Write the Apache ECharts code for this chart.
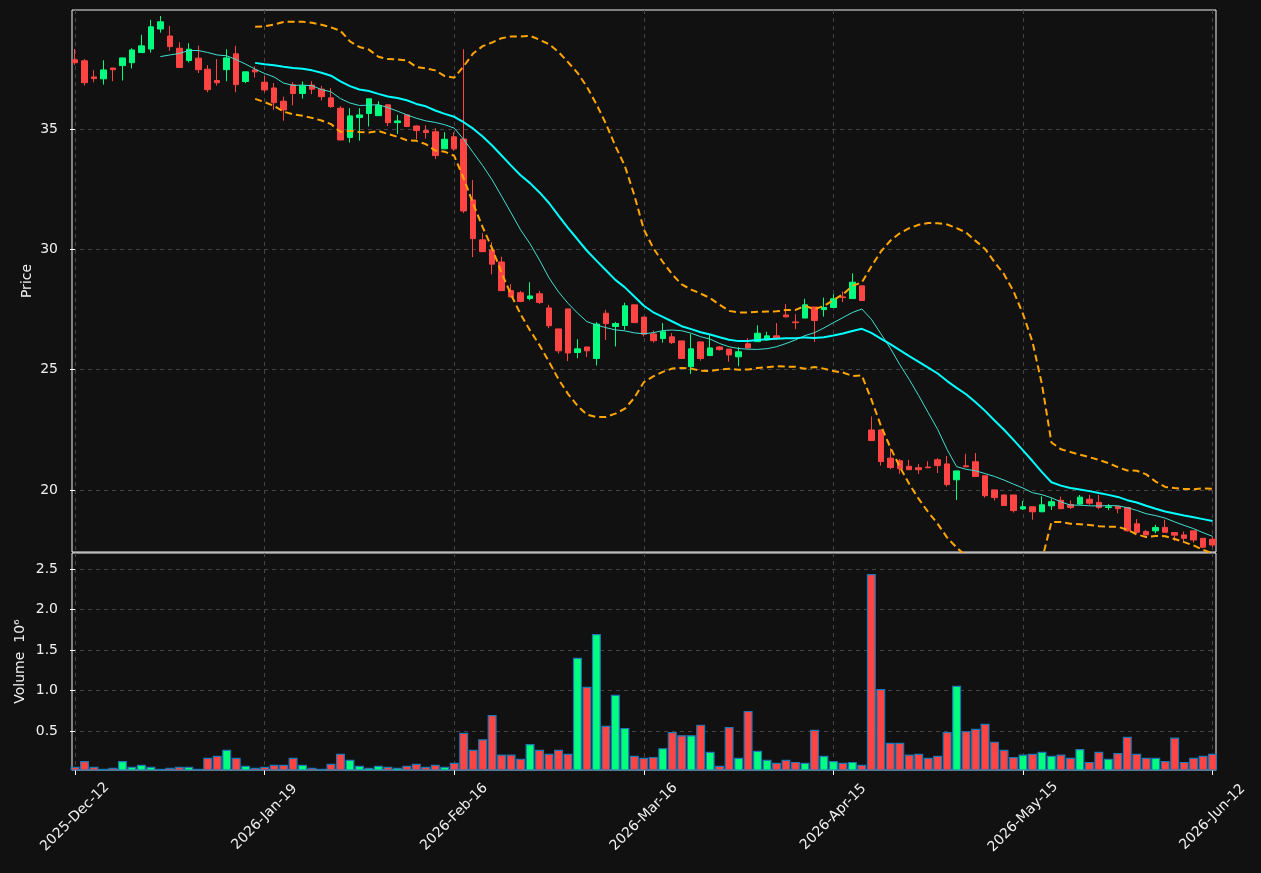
<!DOCTYPE html>
<html>
<head>
<meta charset="utf-8">
<title>Price / Volume</title>
<script src="https://cdn.jsdelivr.net/npm/echarts@6/dist/echarts.min.js"></script>
<style>
  html, body { margin: 0; background: #111111; }
  #main { width: 1261px; height: 873px; }
</style>
</head>
<body>
<div id="main"></div>
<script>
// tick labels every 20 trading days (index 0, 20, ... 120)
var tickLabels = ['2025-Dec-12', '2026-Jan-19', '2026-Feb-16', '2026-Mar-16', '2026-Apr-15', '2026-May-15', '2026-Jun-12'];
var tickIdx = [0, 20, 40, 60, 80, 100, 120];

var opens = [
  37.87, 37.83, 37.16, 37.08, 37.53, 37.63, 37.75, 38.17, 38.32, 39.15,
  38.86, 38.35, 37.84, 37.94, 37.48, 37.01, 37.46, 38.12, 36.97, 37.45,
  36.94, 36.70, 36.15, 36.83, 36.47, 36.82, 36.65, 36.29, 35.86, 34.64,
  35.47, 35.64, 35.55, 36.00, 35.26, 35.58, 35.12, 34.93, 34.88, 34.17,
  34.67, 34.58, 32.05, 30.39, 29.97, 29.47, 28.28, 28.19, 27.95, 28.15,
  27.56, 26.69, 27.52, 25.71, 25.94, 25.46, 27.34, 26.79, 26.83, 27.69,
  27.18, 26.48, 26.29, 26.36, 26.19, 25.12, 26.15, 25.58, 25.94, 25.85,
  25.53, 26.07, 26.16, 26.23, 26.40, 27.27, 26.98, 27.14, 27.60, 27.49,
  27.58, 28.02, 27.95, 28.48, 22.49, 22.49, 21.32, 21.21, 20.98, 20.92,
  20.95, 21.25, 21.08, 20.42, 21.00, 21.17, 20.59, 20.00, 19.79, 19.79,
  19.21, 19.30, 19.09, 19.34, 19.57, 19.39, 19.41, 19.61, 19.48, 19.27,
  19.31, 19.27, 18.59, 18.27, 18.30, 18.44, 18.23, 18.13, 18.30, 17.99,
  17.95
];
var closes = [
  37.75, 36.92, 37.09, 37.45, 37.46, 37.95, 38.28, 38.45, 39.24, 39.45,
  38.42, 37.55, 38.31, 37.46, 36.63, 36.92, 37.95, 36.84, 37.37, 37.37,
  36.62, 36.09, 35.79, 36.47, 36.79, 36.65, 36.34, 35.93, 34.54, 35.54,
  35.58, 36.25, 35.97, 35.26, 35.33, 35.10, 34.93, 34.85, 33.89, 34.57,
  34.17, 31.59, 30.44, 29.90, 29.38, 28.28, 28.02, 27.83, 28.06, 27.79,
  26.82, 25.78, 25.69, 25.86, 25.78, 26.89, 26.91, 26.91, 27.65, 26.95,
  26.47, 26.20, 26.57, 26.12, 25.46, 25.86, 25.46, 25.90, 25.83, 25.61,
  25.74, 25.90, 26.51, 26.40, 26.29, 27.19, 26.95, 27.69, 27.04, 27.58,
  27.94, 27.99, 28.63, 27.87, 22.05, 21.18, 20.93, 20.88, 20.84, 20.84,
  20.92, 21.01, 20.22, 20.79, 20.96, 20.56, 19.76, 19.68, 19.35, 19.14,
  19.30, 19.09, 19.38, 19.51, 19.22, 19.27, 19.70, 19.45, 19.27, 19.30,
  19.22, 18.30, 18.24, 18.13, 18.44, 18.24, 18.12, 17.99, 17.92, 17.62,
  17.71
];
var lows = [
  37.66, 36.80, 36.94, 36.84, 36.98, 37.01, 37.51, 38.17, 38.17, 39.00,
  38.25, 37.55, 37.76, 37.32, 36.52, 36.80, 36.98, 36.52, 36.90, 37.13,
  36.52, 35.79, 35.34, 35.98, 36.26, 36.44, 36.18, 35.87, 34.54, 34.43,
  34.51, 35.10, 35.55, 35.12, 34.79, 35.10, 34.57, 34.60, 33.75, 34.17,
  34.09, 31.50, 29.67, 29.88, 28.96, 28.28, 27.99, 27.80, 27.88, 27.72,
  26.72, 25.66, 25.35, 25.47, 25.52, 25.17, 26.23, 25.96, 26.65, 26.95,
  26.37, 26.12, 26.12, 26.06, 25.46, 24.82, 25.37, 25.58, 25.79, 25.33,
  25.14, 25.88, 26.16, 26.20, 26.23, 27.16, 26.68, 27.14, 26.14, 27.20,
  27.58, 27.80, 27.95, 27.87, 22.05, 21.01, 20.86, 20.67, 20.84, 20.66,
  20.92, 20.70, 20.14, 19.58, 20.96, 20.56, 19.68, 19.56, 19.35, 19.06,
  19.17, 18.76, 19.09, 19.17, 19.20, 19.20, 19.38, 19.38, 19.20, 19.17,
  19.03, 18.27, 18.20, 18.11, 18.20, 18.24, 17.88, 17.85, 17.81, 17.58,
  17.62
];
var highs = [
  38.32, 37.90, 37.44, 37.85, 37.53, 37.95, 38.35, 38.91, 39.53, 39.69,
  39.28, 38.60, 38.56, 38.46, 37.65, 37.90, 38.31, 38.45, 37.37, 37.59,
  37.20, 36.90, 36.34, 36.94, 36.97, 36.98, 36.79, 36.69, 35.94, 35.86,
  35.86, 36.25, 36.15, 36.00, 35.58, 35.58, 35.15, 35.15, 35.03, 34.86,
  34.86, 38.31, 32.88, 30.67, 30.29, 29.69, 28.55, 28.27, 28.63, 28.27,
  27.69, 26.69, 27.52, 26.26, 25.94, 26.97, 27.48, 26.98, 27.78, 27.69,
  27.18, 26.62, 26.93, 26.51, 26.19, 26.48, 26.15, 26.48, 25.98, 25.85,
  25.93, 26.30, 26.84, 26.57, 26.93, 27.72, 27.30, 27.94, 27.60, 27.99,
  28.13, 28.24, 29.00, 28.48, 23.05, 22.49, 21.73, 21.28, 21.25, 21.08,
  21.19, 21.32, 21.41, 20.79, 21.50, 21.53, 20.59, 20.00, 19.79, 19.79,
  19.54, 19.30, 19.73, 19.65, 19.72, 19.56, 19.79, 19.79, 19.79, 19.41,
  19.31, 19.27, 18.79, 18.34, 18.55, 18.76, 18.23, 18.27, 18.30, 17.99,
  18.06
];
// volume in millions
var volumes = [
  0.060, 0.130, 0.060, 0.035, 0.047, 0.130, 0.060, 0.084, 0.060, 0.035,
  0.047, 0.060, 0.060, 0.035, 0.170, 0.195, 0.270, 0.170, 0.072, 0.047,
  0.060, 0.084, 0.084, 0.170, 0.084, 0.047, 0.035, 0.096, 0.220, 0.146,
  0.072, 0.047, 0.072, 0.060, 0.047, 0.072, 0.096, 0.060, 0.084, 0.060,
  0.110, 0.480, 0.270, 0.400, 0.700, 0.210, 0.210, 0.160, 0.340, 0.270,
  0.220, 0.270, 0.220, 1.405, 1.047, 1.700, 0.565, 0.948, 0.540, 0.195,
  0.170, 0.180, 0.290, 0.490, 0.450, 0.450, 0.580, 0.245, 0.072, 0.550,
  0.170, 0.750, 0.257, 0.146, 0.110, 0.146, 0.120, 0.110, 0.516, 0.195,
  0.130, 0.110, 0.120, 0.084, 2.440, 1.020, 0.356, 0.356, 0.210, 0.220,
  0.170, 0.195, 0.490, 1.060, 0.500, 0.530, 0.590, 0.370, 0.270, 0.180,
  0.210, 0.220, 0.245, 0.195, 0.210, 0.170, 0.280, 0.120, 0.245, 0.160,
  0.230, 0.430, 0.220, 0.170, 0.170, 0.130, 0.420, 0.120, 0.170, 0.195,
  0.220
];

var upColor = '#00ff7f';
var downColor = '#ff4444';
var textColor = '#f0f0f0';
var gridColor = '#444444';
var font = 'DejaVu Sans';

function sma(n) {
  var out = [];
  for (var i = n - 1; i < closes.length; i++) {
    var s = 0;
    for (var j = i - n + 1; j <= i; j++) s += closes[j];
    out.push([i, s / n]);
  }
  return out;
}
function band(n, k) {
  var up = [], lo = [];
  for (var i = n - 1; i < closes.length; i++) {
    var s = 0, q = 0;
    for (var j = i - n + 1; j <= i; j++) s += closes[j];
    var m = s / n;
    for (var j = i - n + 1; j <= i; j++) q += (closes[j] - m) * (closes[j] - m);
    var sd = Math.sqrt(q / n);
    up.push([i, m + k * sd]);
    lo.push([i, m - k * sd]);
  }
  return [up, lo];
}

var candles = [], vols = [];
for (var i = 0; i < closes.length; i++) {
  candles.push([i, opens[i], closes[i], lows[i], highs[i]]);
  vols.push({ value: [i, volumes[i]], itemStyle: { color: closes[i] >= opens[i] ? upColor : downColor } });
}
var bb = band(20, 2);

var xBase = {
  type: 'value', min: -0.32, max: 120.36,
  axisLine: { show: false },
  splitLine: { show: true, lineStyle: { color: gridColor, type: [4, 4] } }
};

var myChart = echarts.init(document.getElementById('main'));
var option = {
  backgroundColor: '#111111',
  animation: false,
  grid: [
    { left: 72, top: 10, width: 1144, height: 542, show: true, borderColor: '#f2f2f2', borderWidth: 1 },
    { left: 72, top: 553, width: 1144, height: 217, show: true, borderColor: '#f2f2f2', borderWidth: 1 }
  ],
  xAxis: [
    Object.assign({}, xBase, {
      gridIndex: 0,
      axisTick: { show: false, customValues: tickIdx },
      axisLabel: { show: false, customValues: tickIdx }
    }),
    Object.assign({}, xBase, {
      gridIndex: 1,
      axisTick: { show: true, customValues: tickIdx, length: 5, lineStyle: { color: '#ffffff' } },
      axisLabel: {
        customValues: tickIdx, rotate: 45, margin: 47,
        align: 'center', verticalAlign: 'middle',
        color: textColor, fontSize: 14, fontFamily: font,
        formatter: function (v) { return tickLabels[tickIdx.indexOf(Math.round(v))] || ''; }
      }
    })
  ],
  yAxis: [
    {
      type: 'value', gridIndex: 0, min: 17.42, max: 39.94,
      name: 'Price', nameLocation: 'middle', nameGap: 38, nameMoveOverlap: false,
      nameTextStyle: { color: textColor, fontSize: 14, fontFamily: font },
      axisLine: { show: false },
      axisTick: { show: true, customValues: [20, 25, 30, 35], length: 5, lineStyle: { color: '#ffffff' } },
      axisLabel: { customValues: [20, 25, 30, 35], margin: 14, color: textColor, fontSize: 14, fontFamily: font },
      splitLine: { show: true, lineStyle: { color: gridColor, type: [4, 4] } }
    },
    {
      type: 'value', gridIndex: 1, min: 0.02, max: 2.7,
      name: 'Volume  10\u2076', nameLocation: 'middle', nameGap: 45, nameMoveOverlap: false,
      nameTextStyle: { color: textColor, fontSize: 14, fontFamily: font },
      axisLine: { show: false },
      axisTick: { show: true, customValues: [0.5, 1, 1.5, 2, 2.5], length: 5, lineStyle: { color: '#ffffff' } },
      axisLabel: {
        customValues: [0.5, 1, 1.5, 2, 2.5], margin: 14, color: textColor, fontSize: 14, fontFamily: font,
        formatter: function (v) { return v.toFixed(1); }
      },
      splitLine: { show: true, lineStyle: { color: gridColor, type: [4, 4] } }
    }
  ],
  series: [
    {
      type: 'candlestick', xAxisIndex: 0, yAxisIndex: 0,
      encode: { x: 0, y: [1, 2, 3, 4] },
      data: candles, barWidth: 6,
      itemStyle: { color: upColor, color0: downColor, borderColor: upColor, borderColor0: downColor, borderWidth: 1 }
    },
    {
      type: 'line', xAxisIndex: 0, yAxisIndex: 0, data: sma(10), showSymbol: false,
      lineStyle: { color: '#40e0d0', width: 1 }
    },
    {
      type: 'line', xAxisIndex: 0, yAxisIndex: 0, data: sma(20), showSymbol: false,
      lineStyle: { color: '#00ffff', width: 2 }
    },
    {
      type: 'line', xAxisIndex: 0, yAxisIndex: 0, data: bb[0], showSymbol: false,
      lineStyle: { color: '#ffa500', width: 2, type: [7, 4] }
    },
    {
      type: 'line', xAxisIndex: 0, yAxisIndex: 0, data: bb[1], showSymbol: false,
      lineStyle: { color: '#ffa500', width: 2, type: [7, 4] }
    },
    {
      type: 'bar', xAxisIndex: 1, yAxisIndex: 1, data: vols, barWidth: 9,
      itemStyle: { borderColor: '#1f77b4', borderWidth: 1.2 }
    }
  ]
};
myChart.setOption(option);
</script>
</body>
</html>
